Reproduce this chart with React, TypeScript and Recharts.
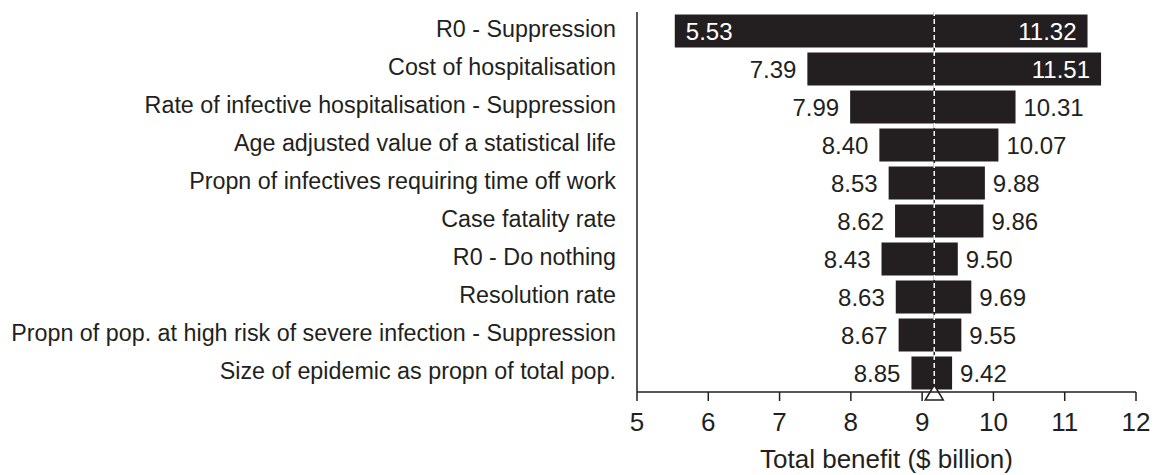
import { Bar, BarChart, ReferenceLine, XAxis, YAxis } from "recharts";

const factores = [
  "R0 - Suppression",
  "Cost of hospitalisation",
  "Rate of infective hospitalisation - Suppression",
  "Age adjusted value of a statistical life",
  "Propn of infectives requiring time off work",
  "Case fatality rate",
  "R0 - Do nothing",
  "Resolution rate",
  "Propn of pop. at high risk of severe infection - Suppression",
  "Size of epidemic as propn of total pop.",
];
const baixos = [5.53, 7.39, 7.99, 8.4, 8.53, 8.62, 8.43, 8.63, 8.67, 8.85];
const altos = [11.32, 11.51, 10.31, 10.07, 9.88, 9.86, 9.5, 9.69, 9.55, 9.42];
const ticksX = [5, 6, 7, 8, 9, 10, 11, 12];
const BASE = 9.17; // valor base (triângulo)

const dados = factores.map((nome, i) => ({
  nome,
  baixo: baixos[i],
  alto: altos[i],
  faixa: [baixos[i], altos[i]],
}));

const TINTA = "#231f20";

function BarraTornado(props: any) {
  const { x, y, width, height, payload } = props;
  const cy = y + height / 2;
  const pxPorUnid = width / (payload.alto - payload.baixo);
  const xBase = x + (BASE - payload.baixo) * pxPorUnid;
  // rótulo dentro da barra (branco) quando o lado é comprido
  const dentroEsq = xBase - x > 140;
  const dentroDir = x + width - xBase > 140;
  const fmt = (v: number) => v.toFixed(2);
  return (
    <g>
      <rect x={x} y={y} width={width} height={height} fill={TINTA} />
      <text
        x={dentroEsq ? x + 11 : x - 11}
        y={cy}
        dominantBaseline="central"
        textAnchor={dentroEsq ? "start" : "end"}
        fill={dentroEsq ? "#fff" : TINTA}
        fontSize={24}
      >
        {fmt(payload.baixo)}
      </text>
      <text
        x={dentroDir ? x + width - 11 : x + width + 8}
        y={cy}
        dominantBaseline="central"
        textAnchor={dentroDir ? "end" : "start"}
        fill={dentroDir ? "#fff" : TINTA}
        fontSize={24}
      >
        {fmt(payload.alto)}
      </text>
    </g>
  );
}

function TickFactor(props: any) {
  const { y, payload } = props;
  return (
    <text x={616} y={y - 2} textAnchor="end" dominantBaseline="central" fill={TINTA} fontSize={23.3}>
      {payload.value}
    </text>
  );
}

function Triangulo(props: any) {
  const { viewBox } = props;
  const cx = viewBox.x;
  const by = viewBox.y + viewBox.height;
  return (
    <polygon
      points={`${cx - 9},${by + 8} ${cx + 9},${by + 8} ${cx},${by - 7}`}
      fill="#fff"
      stroke={TINTA}
      strokeWidth={1.5}
    />
  );
}

export default function App() {
  return (
    <div style={{ position: "absolute", left: 0, top: 0, fontFamily: "Arial, 'Liberation Sans', sans-serif" }}>
      <BarChart
        width={1158}
        height={475}
        data={dados}
        layout="vertical"
        margin={{ top: 12, right: 22, left: 0, bottom: 0 }}
        barCategoryGap={2.5}
      >
        <XAxis
          xAxisId="topo"
          orientation="top"
          type="number"
          domain={[5, 12]}
          height={0}
          tick={false}
          tickLine={false}
          axisLine={{ stroke: TINTA, strokeWidth: 2 }}
        />
        <XAxis
          type="number"
          domain={[5, 12]}
          ticks={ticksX}
          allowDataOverflow
          height={83}
          tickSize={9}
          tickMargin={12}
          axisLine={{ stroke: TINTA, strokeWidth: 1.5 }}
          tickLine={{ stroke: TINTA, strokeWidth: 1.5 }}
          tick={{ fill: TINTA, fontSize: 26 }}
          label={{ value: "Total benefit ($ billion)", position: "insideBottom", offset: 7, fill: TINTA, fontSize: 26 }}
        />
        <YAxis
          type="category"
          dataKey="nome"
          width={637}
          tickLine={false}
          tick={<TickFactor />}
          axisLine={{ stroke: TINTA, strokeWidth: 1.5 }}
        />
        <YAxis
          yAxisId="dir"
          orientation="right"
          type="category"
          dataKey="nome"
          width={0}
          tick={false}
          tickLine={false}
          axisLine={{ stroke: "#999", strokeWidth: 2 }}
        />
        <Bar dataKey="faixa" isAnimationActive={false} shape={<BarraTornado />} />
        <ReferenceLine x={BASE} stroke={TINTA} strokeWidth={1.5} />
        <ReferenceLine
          x={BASE}
          stroke="#fff"
          strokeWidth={1.5}
          strokeDasharray="5 3"
          label={<Triangulo />}
        />
      </BarChart>
    </div>
  );
}
